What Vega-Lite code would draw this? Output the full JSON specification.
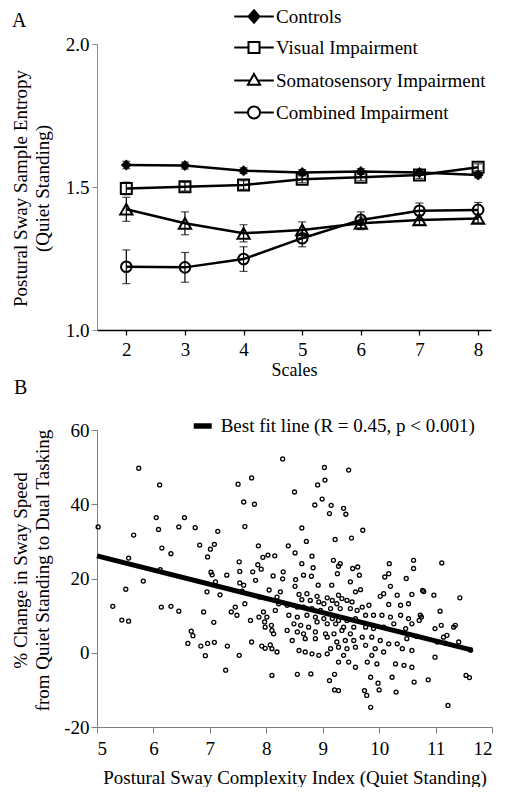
{
  "$schema": "https://vega.github.io/schema/vega-lite/v6.json",
  "background": "white",
  "padding": {"left": 10, "top": 7, "right": 0, "bottom": 0},
  "bounds": "flush",
  "spacing": 100,
  "resolve": {"legend": {"shape": "independent", "fill": "independent", "stroke": "independent"}},
  "config": {
    "font": "Liberation Serif",
    "view": {"stroke": null},
    "axis": {"labelFont": "Liberation Serif", "titleFont": "Liberation Serif", "labelFontSize": 19, "titleFontSize": 19, "titleFontWeight": "normal", "labelColor": "black", "titleColor": "black", "grid": false},
    "legend": {"labelFont": "Liberation Serif", "labelFontSize": 19, "labelColor": "black", "labelLimit": 0},
    "title": {"font": "Liberation Serif", "fontWeight": "normal", "fontSize": 20, "color": "black"}
  },
  "vconcat": [
    {
      "width": 394,
      "height": 286,
      "title": {"text": "A", "anchor": "start", "frame": "group", "dx": -85, "offset": -24},
      "data": {"values": [
        {"s": 2, "g": "Controls", "v": 1.577, "lo": 1.564, "hi": 1.590},
        {"s": 3, "g": "Controls", "v": 1.575, "lo": 1.563, "hi": 1.587},
        {"s": 4, "g": "Controls", "v": 1.557, "lo": 1.547, "hi": 1.567},
        {"s": 5, "g": "Controls", "v": 1.551, "lo": 1.541, "hi": 1.561},
        {"s": 6, "g": "Controls", "v": 1.554, "lo": 1.544, "hi": 1.564},
        {"s": 7, "g": "Controls", "v": 1.551, "lo": 1.541, "hi": 1.561},
        {"s": 8, "g": "Controls", "v": 1.542, "lo": 1.532, "hi": 1.552},
        {"s": 2, "g": "Visual Impairment", "v": 1.495, "lo": 1.473, "hi": 1.517},
        {"s": 3, "g": "Visual Impairment", "v": 1.501, "lo": 1.486, "hi": 1.516},
        {"s": 4, "g": "Visual Impairment", "v": 1.507, "lo": 1.492, "hi": 1.522},
        {"s": 5, "g": "Visual Impairment", "v": 1.527, "lo": 1.515, "hi": 1.539},
        {"s": 6, "g": "Visual Impairment", "v": 1.534, "lo": 1.522, "hi": 1.546},
        {"s": 7, "g": "Visual Impairment", "v": 1.542, "lo": 1.530, "hi": 1.554},
        {"s": 8, "g": "Visual Impairment", "v": 1.569, "lo": 1.557, "hi": 1.581},
        {"s": 2, "g": "Somatosensory Impairment", "v": 1.422, "lo": 1.380, "hi": 1.464},
        {"s": 3, "g": "Somatosensory Impairment", "v": 1.373, "lo": 1.333, "hi": 1.413},
        {"s": 4, "g": "Somatosensory Impairment", "v": 1.338, "lo": 1.308, "hi": 1.368},
        {"s": 5, "g": "Somatosensory Impairment", "v": 1.350, "lo": 1.322, "hi": 1.378},
        {"s": 6, "g": "Somatosensory Impairment", "v": 1.373, "lo": 1.351, "hi": 1.395},
        {"s": 7, "g": "Somatosensory Impairment", "v": 1.385, "lo": 1.369, "hi": 1.401},
        {"s": 8, "g": "Somatosensory Impairment", "v": 1.390, "lo": 1.375, "hi": 1.405},
        {"s": 2, "g": "Combined Impairment", "v": 1.221, "lo": 1.162, "hi": 1.280},
        {"s": 3, "g": "Combined Impairment", "v": 1.219, "lo": 1.167, "hi": 1.271},
        {"s": 4, "g": "Combined Impairment", "v": 1.248, "lo": 1.205, "hi": 1.291},
        {"s": 5, "g": "Combined Impairment", "v": 1.321, "lo": 1.291, "hi": 1.351},
        {"s": 6, "g": "Combined Impairment", "v": 1.385, "lo": 1.357, "hi": 1.413},
        {"s": 7, "g": "Combined Impairment", "v": 1.417, "lo": 1.390, "hi": 1.444},
        {"s": 8, "g": "Combined Impairment", "v": 1.420, "lo": 1.394, "hi": 1.446}
      ]},
      "encoding": {
        "x": {"field": "s", "type": "quantitative", "scale": {"domain": [1.5, 8.22], "nice": false, "zero": false},
          "axis": {"values": [2, 3, 4, 5, 6, 7, 8], "format": "d", "title": "Scales", "titleFontSize": 18, "titleY": 31, "tickSize": 5, "labelPadding": 5, "domainColor": "black", "domainWidth": 1.5, "tickColor": "black", "tickWidth": 1.3}}
      },
      "layer": [
        {
          "mark": {"type": "rule", "color": "black", "strokeWidth": 1.2},
          "encoding": {
            "y": {"field": "lo", "type": "quantitative", "scale": {"domain": [1, 2], "nice": false, "zero": false},
              "axis": {"values": [1, 1.5, 2], "format": ".1f", "title": ["Postural Sway Sample Entropy", "(Quiet Standing)"], "titleX": -67, "titleY": 144, "titleLineHeight": 22, "tickSize": 5, "labelPadding": 3, "domainColor": "#8a8a8a", "tickColor": "#8a8a8a"}},
            "y2": {"field": "hi"},
            "detail": {"field": "g"}
          }
        },
        {
          "mark": {"type": "tick", "orient": "horizontal", "color": "black", "size": 8, "thickness": 1.2},
          "encoding": {"y": {"field": "lo", "type": "quantitative", "title": ["Postural Sway Sample Entropy", "(Quiet Standing)"]}}
        },
        {
          "mark": {"type": "tick", "orient": "horizontal", "color": "black", "size": 8, "thickness": 1.2},
          "encoding": {"y": {"field": "hi", "type": "quantitative", "title": ["Postural Sway Sample Entropy", "(Quiet Standing)"]}}
        },
        {
          "mark": {"type": "line", "color": "black", "strokeWidth": 2.5},
          "encoding": {"y": {"field": "v", "type": "quantitative", "title": ["Postural Sway Sample Entropy", "(Quiet Standing)"]}, "detail": {"field": "g"}}
        },
        {
          "transform": [{"filter": "datum.g === 'Controls'"}],
          "mark": {"type": "point", "shape": "diamond", "filled": true, "color": "black", "size": 121, "opacity": 1},
          "encoding": {"y": {"field": "v", "type": "quantitative", "title": ["Postural Sway Sample Entropy", "(Quiet Standing)"]}}
        },
        {
          "transform": [{"filter": "datum.g === 'Visual Impairment'"}],
          "mark": {"type": "point", "shape": "square", "filled": false, "color": "black", "strokeWidth": 2, "size": 121, "opacity": 1},
          "encoding": {"y": {"field": "v", "type": "quantitative", "title": ["Postural Sway Sample Entropy", "(Quiet Standing)"]}}
        },
        {
          "transform": [{"filter": "datum.g === 'Somatosensory Impairment'"}],
          "mark": {"type": "point", "shape": "triangle-up", "filled": false, "color": "black", "strokeWidth": 2, "size": 150, "opacity": 1},
          "encoding": {"y": {"field": "v", "type": "quantitative", "title": ["Postural Sway Sample Entropy", "(Quiet Standing)"]}}
        },
        {
          "transform": [{"filter": "datum.g === 'Combined Impairment'"}],
          "mark": {"type": "point", "shape": "circle", "filled": false, "color": "black", "strokeWidth": 2, "size": 113, "opacity": 1},
          "encoding": {"y": {"field": "v", "type": "quantitative", "title": ["Postural Sway Sample Entropy", "(Quiet Standing)"]}}
        },
        {
          "transform": [{"filter": "datum.s === 2"}],
          "mark": {"type": "point", "filled": true, "stroke": "black", "strokeWidth": 2, "size": 121, "opacity": 0},
          "encoding": {
            "y": {"field": "v", "type": "quantitative", "title": ["Postural Sway Sample Entropy", "(Quiet Standing)"]},
            "shape": {"field": "g", "type": "nominal",
              "scale": {"domain": ["Controls", "Visual Impairment", "Somatosensory Impairment", "Combined Impairment"],
                "range": ["M-3.6,0H-1M1,0H3.6M0,-1.15L1,0L0,1.15L-1,0Z", "M-3.6,0H-1M1,0H3.6M-1,-1H1V1H-1Z", "M-3.6,0H-0.68M0.68,0H3.6M0,-1.2L1.1,0.75L-1.1,0.75Z", "M-3.6,0H-1.1M1.1,0H3.6M1.1,0A1.1,1.1,0,1,1,-1.1,0A1.1,1.1,0,1,1,1.1,0Z"]},
              "legend": {"title": null, "orient": "none", "legendX": 147.5, "legendY": -37, "padding": 0, "symbolSize": 121, "symbolStrokeWidth": 2, "symbolStrokeColor": "black", "labelOffset": 12.5, "rowPadding": 11, "labelFontSize": 19, "labelLimit": 0,
                "encode": {"symbols": {"update": {"opacity": {"value": 1}, "stroke": {"value": "black"}, "strokeWidth": {"value": 2}}}}}},
            "fill": {"field": "g", "type": "nominal",
              "scale": {"domain": ["Controls", "Visual Impairment", "Somatosensory Impairment", "Combined Impairment"], "range": ["black", "white", "white", "white"]},
              "legend": {"title": null, "orient": "none", "legendX": 147.5, "legendY": -37, "padding": 0, "symbolSize": 121, "symbolStrokeWidth": 2, "symbolStrokeColor": "black", "labelOffset": 12.5, "rowPadding": 11, "labelFontSize": 19, "labelLimit": 0,
                "encode": {"symbols": {"update": {"opacity": {"value": 1}, "stroke": {"value": "black"}, "strokeWidth": {"value": 2}}}}}}
          }
        }
      ]
    },
    {
      "width": 395,
      "height": 297,
      "title": {"text": "B", "anchor": "start", "frame": "group", "dx": -83, "offset": 16},
      "layer": [
        {
          "data": {"values": [
            {"x":5.02,"y":33.9},{"x":5.28,"y":12.5},{"x":5.44,"y":8.8},{"x":5.51,"y":17.1},{"x":5.56,"y":25.5},{"x":5.56,"y":8.5},{"x":5.65,"y":31.7},{"x":5.74,"y":49.7},{"x":5.82,"y":19.3},{"x":6.05,"y":36.4},
            {"x":6.09,"y":33.2},{"x":6.11,"y":45.2},{"x":6.12,"y":22.4},{"x":6.15,"y":28.2},{"x":6.14,"y":12.3},{"x":6.31,"y":12.5},{"x":6.31,"y":26.7},{"x":6.45,"y":11.2},{"x":6.45,"y":33.9},{"x":6.55,"y":36.4},
            {"x":6.61,"y":2.5},{"x":6.67,"y":5.8},{"x":6.70,"y":4.6},{"x":6.74,"y":33.7},{"x":6.82,"y":29.0},{"x":6.84,"y":1.8},{"x":6.89,"y":11.0},{"x":6.92,"y":-0.8},{"x":6.95,"y":16.4},{"x":6.96,"y":25.8},
            {"x":6.96,"y":2.5},{"x":7.01,"y":27.9},{"x":7.02,"y":21.7},{"x":7.04,"y":21.0},{"x":7.07,"y":8.2},{"x":7.08,"y":29.2},{"x":7.08,"y":2.8},{"x":7.10,"y":19.1},{"x":7.14,"y":32.7},{"x":7.18,"y":15.6},
            {"x":7.28,"y":-4.7},{"x":7.30,"y":20.9},{"x":7.31,"y":1.8},{"x":7.50,"y":45.4},{"x":7.52,"y":24.5},{"x":7.53,"y":21.9},{"x":7.53,"y":18.8},{"x":7.57,"y":16.6},{"x":7.60,"y":18.2},{"x":7.60,"y":40.6},
            {"x":7.62,"y":34.0},{"x":7.74,"y":47.1},{"x":7.76,"y":21.8},{"x":7.79,"y":40.0},{"x":7.81,"y":19.5},{"x":7.85,"y":23.7},{"x":7.86,"y":28.8},{"x":7.88,"y":15.0},{"x":7.91,"y":22.5},{"x":7.94,"y":25.7},
            {"x":8.03,"y":26.3},{"x":8.12,"y":20.7},{"x":8.15,"y":26.1},{"x":8.29,"y":52.2},{"x":8.29,"y":19.9},{"x":8.30,"y":21.8},{"x":8.39,"y":28.8},{"x":8.50,"y":43.3},{"x":8.51,"y":26.9},{"x":8.52,"y":19.7},
            {"x":8.51,"y":17.9},{"x":8.63,"y":33.6},{"x":8.63,"y":24.0},{"x":8.66,"y":20.9},{"x":8.71,"y":30.0},{"x":8.80,"y":20.6},{"x":8.81,"y":26.0},{"x":8.83,"y":22.9},{"x":8.86,"y":39.8},{"x":8.91,"y":45.2},
            {"x":8.92,"y":18.2},{"x":8.99,"y":41.4},{"x":9.03,"y":49.9},{"x":9.04,"y":46.5},{"x":9.12,"y":37.5},{"x":9.12,"y":-7.5},{"x":9.15,"y":39.7},{"x":9.16,"y":18.2},{"x":9.19,"y":24.9},{"x":9.21,"y":-5.8},
            {"x":9.21,"y":-10.0},{"x":9.22,"y":30.5},{"x":9.26,"y":21.3},{"x":9.28,"y":23.3},{"x":9.28,"y":-10.2},{"x":9.31,"y":24.0},{"x":9.37,"y":38.9},{"x":9.41,"y":37.3},{"x":9.46,"y":49.2},{"x":9.49,"y":19.1},
            {"x":9.51,"y":30.9},{"x":9.53,"y":22.7},{"x":9.62,"y":23.1},{"x":9.65,"y":20.9},{"x":9.67,"y":17.0},{"x":9.71,"y":33.0},{"x":9.74,"y":-10.2},{"x":9.78,"y":-11.5},{"x":9.85,"y":-6.6},{"x":9.85,"y":-14.7},
            {"x":9.98,"y":-8.2},{"x":10.00,"y":-10.0},{"x":10.10,"y":20.4},{"x":10.17,"y":21.3},{"x":10.18,"y":24.0},{"x":10.20,"y":17.9},{"x":10.23,"y":-6.6},{"x":10.30,"y":-10.6},{"x":10.48,"y":20.0},{"x":10.61,"y":24.9},
            {"x":10.61,"y":22.7},{"x":10.62,"y":-7.9},{"x":10.77,"y":16.8},{"x":10.87,"y":-7.3},{"x":11.08,"y":11.2},{"x":11.10,"y":7.4},{"x":11.11,"y":24.2},{"x":11.14,"y":4.2},{"x":11.17,"y":2.6},{"x":11.20,"y":4.7},
            {"x":11.22,"y":-14.2},{"x":11.32,"y":6.9},{"x":11.35,"y":7.4},{"x":11.41,"y":2.9},{"x":11.43,"y":14.8},{"x":11.54,"y":-6.1},{"x":11.60,"y":-6.7},{"x":11.62,"y":0.7},{"x":8.55,"y":-5.8},{"x":8.79,"y":-5.7},
            {"x":8.05,"y":16.9},{"x":8.25,"y":16.4},{"x":8.19,"y":15.0},{"x":8.22,"y":13.2},{"x":8.16,"y":11.4},{"x":7.45,"y":12.3},{"x":7.38,"y":11.0},{"x":7.48,"y":10.1},{"x":7.62,"y":13.2},{"x":7.72,"y":8.7},
            {"x":7.87,"y":9.6},{"x":7.95,"y":11.0},{"x":8.01,"y":9.6},{"x":7.97,"y":8.3},{"x":8.09,"y":7.4},{"x":7.98,"y":6.9},{"x":8.10,"y":6.0},{"x":8.13,"y":5.1},{"x":7.74,"y":2.9},{"x":7.92,"y":1.8},
            {"x":7.98,"y":1.2},{"x":8.07,"y":2.1},{"x":8.10,"y":1.1},{"x":8.19,"y":0.2},{"x":7.52,"y":-0.7},{"x":8.10,"y":-6.1},
            {"x":8.58,"y":15.7},{"x":8.72,"y":15.9},{"x":8.90,"y":15.2},{"x":9.08,"y":14.8},{"x":9.28,"y":15.5},{"x":9.34,"y":14.6},{"x":9.58,"y":16.4},{"x":8.63,"y":14.3},{"x":8.78,"y":14.1},{"x":8.93,"y":13.7},
            {"x":9.02,"y":13.2},{"x":9.17,"y":14.1},{"x":9.25,"y":13.2},{"x":9.43,"y":14.1},{"x":9.52,"y":13.7},{"x":8.37,"y":12.8},{"x":8.55,"y":12.3},{"x":8.66,"y":12.3},{"x":8.81,"y":11.9},{"x":8.96,"y":11.4},
            {"x":9.14,"y":11.9},{"x":9.31,"y":11.9},{"x":9.49,"y":11.9},{"x":9.61,"y":11.4},{"x":8.40,"y":10.1},{"x":8.55,"y":9.6},{"x":8.72,"y":10.1},{"x":8.87,"y":9.6},{"x":9.02,"y":9.2},{"x":9.17,"y":9.2},
            {"x":9.28,"y":8.7},{"x":9.43,"y":8.7},{"x":9.58,"y":9.2},{"x":8.49,"y":7.8},{"x":8.61,"y":7.4},{"x":8.75,"y":6.9},{"x":8.90,"y":8.3},{"x":9.08,"y":7.8},{"x":9.23,"y":7.8},{"x":9.37,"y":6.9},
            {"x":9.55,"y":6.9},{"x":8.37,"y":6.0},{"x":8.55,"y":5.6},{"x":8.66,"y":5.1},{"x":8.87,"y":5.6},{"x":9.05,"y":5.1},{"x":9.20,"y":5.1},{"x":9.34,"y":6.0},{"x":9.49,"y":5.1},{"x":8.46,"y":3.3},
            {"x":8.69,"y":3.8},{"x":8.87,"y":3.8},{"x":9.08,"y":4.2},{"x":9.25,"y":2.9},{"x":9.40,"y":3.3},{"x":9.55,"y":3.3},{"x":8.58,"y":0.6},{"x":8.69,"y":0.2},{"x":8.81,"y":-0.3},{"x":8.93,"y":-0.7},
            {"x":9.14,"y":1.1},{"x":9.28,"y":1.5},{"x":9.43,"y":1.1},{"x":9.58,"y":1.5},{"x":9.37,"y":-0.7},{"x":9.46,"y":-2.5},{"x":9.28,"y":-2.5},{"x":9.08,"y":-0.3},{"x":9.58,"y":-3.9},
            {"x":10.02,"y":15.2},{"x":10.08,"y":15.9},{"x":10.32,"y":15.5},{"x":10.58,"y":15.7},{"x":10.79,"y":16.5},{"x":10.97,"y":15.5},{"x":9.82,"y":12.8},{"x":10.17,"y":13.0},{"x":10.38,"y":12.8},{"x":10.52,"y":13.2},
            {"x":10.73,"y":10.1},{"x":9.70,"y":12.3},{"x":9.76,"y":10.1},{"x":9.90,"y":10.1},{"x":10.05,"y":10.1},{"x":10.20,"y":9.6},{"x":10.38,"y":10.1},{"x":10.52,"y":9.2},{"x":10.58,"y":7.8},{"x":9.76,"y":6.9},
            {"x":9.90,"y":6.5},{"x":10.08,"y":6.9},{"x":10.26,"y":7.8},{"x":10.47,"y":6.5},{"x":9.70,"y":4.2},{"x":9.87,"y":4.2},{"x":10.02,"y":3.3},{"x":10.17,"y":2.4},{"x":10.32,"y":2.4},{"x":10.49,"y":3.8},
            {"x":9.76,"y":2.0},{"x":9.93,"y":1.1},{"x":10.08,"y":0.2},{"x":10.41,"y":1.1},{"x":10.58,"y":0.6},{"x":9.87,"y":-0.7},{"x":9.79,"y":-2.5},{"x":9.96,"y":-3.0},{"x":10.29,"y":-3.0},{"x":10.44,"y":-3.4},
            {"x":10.58,"y":-3.9},{"x":10.99,"y":-1.2},{"x":10.99,"y":6.5},{"x":11.03,"y":2.9},{"x":10.71,"y":8.7},{"x":10.67,"y":4.4},{"x":10.75,"y":9.6}
          ]},
          "mark": {"type": "point", "shape": "circle", "filled": false, "color": "black", "strokeWidth": 1.3, "size": 16, "opacity": 1},
          "encoding": {
            "x": {"field": "x", "type": "quantitative", "scale": {"domain": [5, 12], "nice": false, "zero": false},
              "axis": {"values": [5, 6, 7, 8, 9, 10, 11, 12], "format": "d", "title": "Postural Sway Complexity Index (Quiet Standing)", "titleY": 41, "tickSize": 6, "labelPadding": 6, "domainColor": "#7f7f7f", "tickColor": "#7f7f7f"}},
            "y": {"field": "y", "type": "quantitative", "scale": {"domain": [-20, 60], "nice": false, "zero": false},
              "axis": {"values": [-20, 0, 20, 40, 60], "labelExpr": "'' + datum.value", "title": ["% Change in Sway Speed", "from Quiet Standing to Dual Tasking"], "titleX": -67, "titleY": 140, "titleLineHeight": 22, "tickSize": 6, "labelPadding": 2, "domainColor": "#7f7f7f", "tickColor": "#7f7f7f"}}
          }
        },
        {
          "data": {"values": [
            {"x": 5.0, "y": 26.1, "series": "Best fit line (R = 0.45, p < 0.001)"},
            {"x": 11.65, "y": 0.7, "series": "Best fit line (R = 0.45, p < 0.001)"}
          ]},
          "mark": {"type": "line", "strokeWidth": 5},
          "encoding": {
            "x": {"field": "x", "type": "quantitative", "title": "Postural Sway Complexity Index (Quiet Standing)"},
            "y": {"field": "y", "type": "quantitative", "title": ["% Change in Sway Speed", "from Quiet Standing to Dual Tasking"]},
            "stroke": {"field": "series", "type": "nominal", "scale": {"range": ["black"]},
              "legend": {"title": null, "orient": "none", "legendX": 93.7, "legendY": -16, "padding": 0, "symbolType": "stroke", "symbolSize": 324, "symbolStrokeWidth": 5.5, "labelOffset": 6, "labelFontSize": 19, "labelLimit": 0}}
          }
        }
      ]
    }
  ]
}
